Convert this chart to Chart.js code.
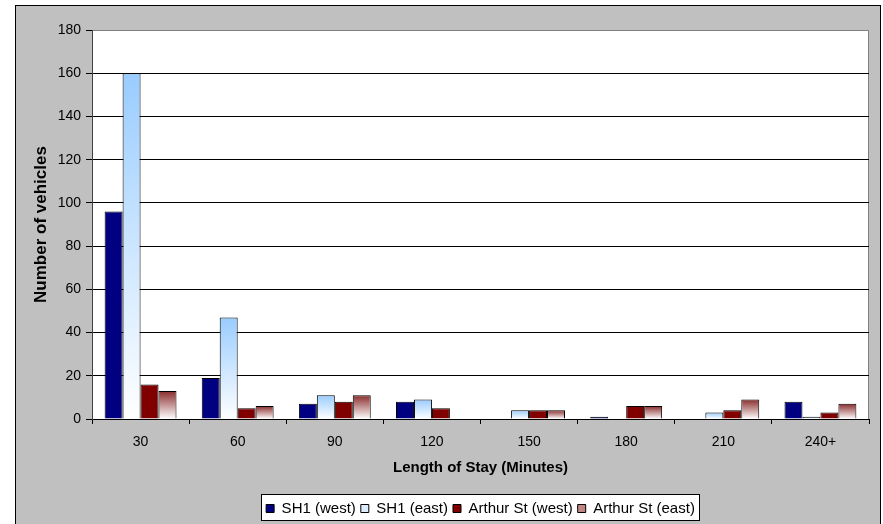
<!DOCTYPE html>
<html>
<head>
<meta charset="utf-8">
<script src="https://cdn.jsdelivr.net/npm/chart.js@4/dist/chart.umd.min.js"></script>
<style>
  html, body { margin: 0; padding: 0; background: #ffffff; overflow: hidden; }
  #frame {
    position: absolute; left: 15px; top: 5px;
    width: 864px; height: 520px;
    background: #c0c0c0;
    border-left: 1px solid #000; border-top: 1px solid #000; border-right: 1px solid #000;
    overflow: hidden;
  }
  #chart { display: block; }
</style>
</head>
<body>
<div id="frame"><canvas id="chart" width="864" height="518"></canvas></div>
<script>
// Length of stay survey: vehicles counted per stay band
const categories = ['30', '60', '90', '120', '150', '180', '210', '240+'];
const sh1West     = [96, 19, 7, 8, 0, 1, 0, 8];
const sh1East     = [160, 47, 11, 9, 4, 0, 3, 1];
const arthurWest  = [16, 5, 8, 5, 4, 6, 4, 3];
const arthurEast  = [13, 6, 11, 0, 4, 6, 9, 7];
const seriesNames = ['SH1 (west)', 'SH1 (east)', 'Arthur St (west)', 'Arthur St (east)'];
const yTicks = { min: 0, max: 180, step: 20 };

const FONT = "'Liberation Sans', Arial, sans-serif";
// Flat swatch colours used in the legend
const swatches = ['#000080', '#dcedff', '#800000', '#c08585'];

// Vertical fade from a colour at the bar top to white at its base
function fadeFill(topColor, legendColor) {
  return (ctx) => {
    if (ctx.type !== 'data') return legendColor;
    const chart = ctx.chart;
    const ys = chart.scales && chart.scales.y;
    if (!ys || !chart.chartArea) return topColor;
    const yTop = ys.getPixelForValue(ctx.raw);
    const yBase = ys.getPixelForValue(0);
    if (yBase - yTop < 1) return topColor;
    const g = chart.ctx.createLinearGradient(0, yTop, 0, yBase);
    g.addColorStop(0, topColor);
    g.addColorStop(1, '#ffffff');
    return g;
  };
}

// White plot area with grey frame, and the boxed legend
const framePlugin = {
  id: 'frames',
  beforeDraw(chart) {
    const { ctx, chartArea: a } = chart;
    ctx.save();
    ctx.fillStyle = '#ffffff';
    ctx.fillRect(a.left, a.top, a.right - a.left, a.bottom - a.top);
    ctx.strokeStyle = '#808080';
    ctx.lineWidth = 1;
    ctx.strokeRect(a.left + 0.5, a.top + 0.5, a.right - a.left - 1, a.bottom - a.top);
    const lg = chart.legend;
    if (lg && lg.legendHitBoxes && lg.legendHitBoxes.length) {
      const hb = lg.legendHitBoxes;
      const x0 = Math.min(...hb.map(h => h.left)) - 5;
      const x1 = Math.max(...hb.map(h => h.left + h.width)) + 4;
      const y0 = lg.top - 2;
      const y1 = lg.bottom - 6;
      ctx.fillStyle = '#ffffff';
      ctx.fillRect(Math.round(x0) + 0.5, Math.round(y0) + 0.5, Math.round(x1 - x0), Math.round(y1 - y0));
      ctx.strokeStyle = '#000000';
      ctx.strokeRect(Math.round(x0) + 0.5, Math.round(y0) + 0.5, Math.round(x1 - x0), Math.round(y1 - y0));
    }
    ctx.restore();
  }
};

const barCommon = { borderColor: '#000000', borderWidth: 1 };

new Chart(document.getElementById('chart'), {
  type: 'bar',
  data: {
    labels: categories,
    datasets: [
      { label: seriesNames[0], data: sh1West, backgroundColor: swatches[0], ...barCommon },
      { label: seriesNames[1], data: sh1East, backgroundColor: fadeFill('#99ccff', swatches[1]), ...barCommon },
      { label: seriesNames[2], data: arthurWest, backgroundColor: swatches[2], ...barCommon },
      { label: seriesNames[3], data: arthurEast, backgroundColor: fadeFill('#8a2b2b', swatches[3]), ...barCommon }
    ]
  },
  options: {
    responsive: false,
    animation: false,
    devicePixelRatio: 1,
    categoryPercentage: 0.74,
    barPercentage: 1.0,
    layout: { padding: { left: 0, right: 11, top: 24, bottom: -2 } },
    plugins: {
      tooltip: { enabled: false },
      legend: {
        position: 'bottom',
        fullSize: false,
        labels: {
          color: '#000000',
          font: { family: FONT, size: 15 },
          boxWidth: 8,
          boxHeight: 8,
          padding: 5,
          generateLabels(chart) {
            const items = Chart.defaults.plugins.legend.labels.generateLabels(chart);
            items.forEach((it, i) => {
              it.fillStyle = swatches[i];
              it.strokeStyle = '#000000';
              it.lineWidth = 1;
            });
            return items;
          }
        }
      }
    },
    scales: {
      x: {
        grid: {
          display: true,
          offset: true,
          drawOnChartArea: false,
          tickLength: 5,
          tickColor: '#000000'
        },
        border: { display: true, color: '#000000' },
        ticks: { color: '#000000', font: { family: FONT, size: 14 }, padding: 10, maxRotation: 0 },
        title: {
          display: true,
          text: 'Length of Stay (Minutes)',
          color: '#000000',
          font: { family: FONT, size: 15, weight: 'bold' },
          padding: { top: 0, bottom: 19 }
        },
        afterFit(scale) { scale.height = 77; }
      },
      y: {
        min: yTicks.min,
        max: yTicks.max,
        grid: {
          color: (c) => (c.tick && c.tick.value === yTicks.max) ? '#808080' : '#000000',
          tickColor: '#000000',
          tickLength: 6
        },
        border: { display: true, color: '#404040' },
        ticks: { stepSize: yTicks.step, color: '#000000', font: { family: FONT, size: 14 }, padding: 5 },
        title: {
          display: true,
          text: 'Number of vehicles',
          color: '#000000',
          font: { family: FONT, size: 17, weight: 'bold' },
          padding: { top: 15, bottom: 0 }
        },
        afterFit(scale) { scale.width = 76; }
      }
    }
  },
  plugins: [framePlugin]
});
</script>
</body>
</html>
